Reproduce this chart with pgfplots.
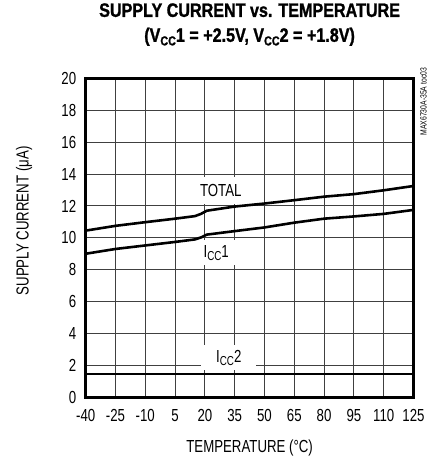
\documentclass[border=0pt]{standalone}
\usepackage{fontspec}
\setmainfont{Liberation Sans}[FakeStretch=0.76]
\newfontfamily\titlefont{Liberation Sans}[FakeStretch=0.83, FakeBold=1.2]
\usepackage{pgfplots}
\pgfplotsset{compat=1.18}
\newcommand\sub[1]{\raisebox{-0.35ex}{\fontsize{13}{13}\selectfont #1}}
\newcommand\lbl{\fontsize{17.5}{20}\selectfont}

\begin{document}
\begin{tikzpicture}
\begin{axis}[
  scale only axis, width=329pt, height=320pt,
  xmin=-40, xmax=125, ymin=0, ymax=20,
  xtick={-40,-25,...,125}, ytick={0,2,...,20},
  grid=major, major grid style={black!75, line width=0.9pt},
  axis line style={line width=2.8pt},
  major tick length=0pt,
  /pgf/number format/assume math mode=true,
  tick label style={font=\lbl},
  xticklabel style={yshift=-9pt},
  yticklabel style={xshift=-6pt},
  label style={font=\lbl},
  xlabel={TEMPERATURE (°C)},
  xlabel style={at={(axis description cs:0.5,-0.16)}, anchor=center},
  ylabel={SUPPLY CURRENT (μA)},
  ylabel style={at={(axis description cs:-0.188,0.553)}, anchor=center},
  title={SUPPLY CURRENT vs. TEMPERATURE\\(V\sub{CC}1 = +2.5V, V\sub{CC}2 = +1.8V)},
  title style={at={(axis description cs:0.5,1)}, anchor=center, yshift=48pt,
    align=center, font=\titlefont\bfseries\fontsize{19.5}{25}\selectfont},
]
% labels with white boxes (drawn under the curves)
\node[fill=white, font=\lbl, minimum width=50pt, minimum height=28pt, inner sep=0pt] at (axis cs:28,12.97) {TOTAL};
\node[fill=white, font=\lbl, minimum width=48pt, minimum height=25pt, inner sep=0pt] at (axis cs:25.7,9.05) {I\sub{CC}1};
\node[fill=white, font=\lbl, minimum width=55pt, minimum height=25pt, inner sep=0pt] at (axis cs:32,2.47) {I\sub{CC}2};

% TOTAL
\addplot[black, line width=2.6pt] coordinates {
  (-40,10.45) (-25,10.75) (-10,10.98) (5,11.2) (15,11.36) (18,11.5) (21,11.7)
  (35,11.96) (50,12.15) (65,12.36) (80,12.58) (95,12.74) (110,12.98) (125,13.25)
};
% ICC1
\addplot[black, line width=2.6pt] coordinates {
  (-40,9.0) (-25,9.3) (-10,9.52) (5,9.74) (15,9.9) (18,10.02) (21,10.2)
  (35,10.42) (50,10.65) (65,10.95) (80,11.2) (95,11.34) (110,11.5) (125,11.75)
};
% ICC2
\addplot[black, line width=2.6pt] coordinates {(-40,1.45) (125,1.45)};
\end{axis}
\node[rotate=90, anchor=east, font=\fontsize{9}{9}\selectfont] at ([shift={(10pt,14pt)}]current axis.north east) {MAX6730A-35A toc03};
\path ([shift={(-86pt,-63pt)}]current axis.south west) rectangle ([shift={(20pt,77pt)}]current axis.north east);
\end{tikzpicture}
\end{document}
